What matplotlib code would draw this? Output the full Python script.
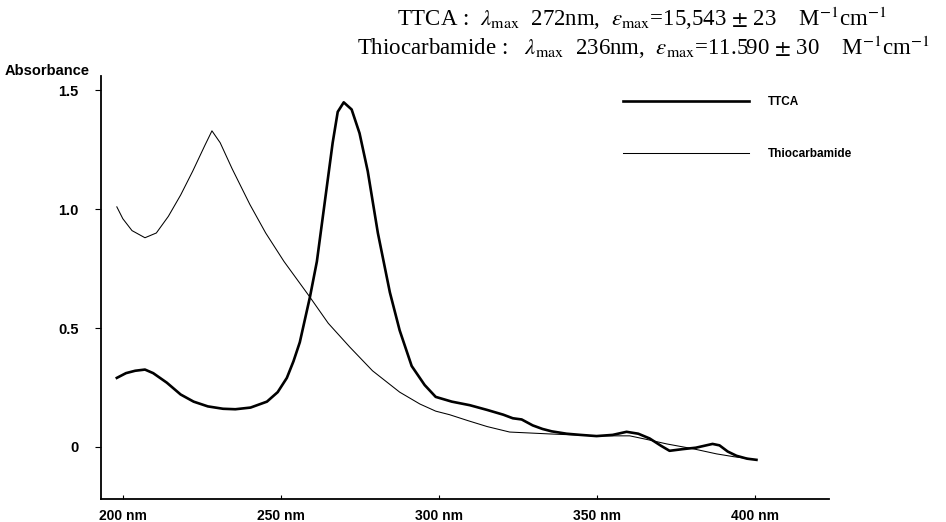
import matplotlib.pyplot as plt

plt.rcParams['font.family'] = ['Liberation Sans', 'DejaVu Sans']
plt.rcParams['mathtext.fontset'] = 'stix'

# TTCA spectrum (nm, absorbance)
ttca_nm = [198.2, 201.1, 204.0, 207.1, 209.7, 214.0, 218.4, 222.5, 227.0, 231.8,
           235.7, 240.5, 245.7, 249.1, 252.0, 254.1, 256.1, 259.3, 261.5, 264.0,
           266.5, 268.1, 270.0, 272.5, 275.0, 277.6, 280.8, 284.6, 287.7, 291.5,
           295.6, 299.1, 304.2, 309.9, 315.4, 320.5, 323.5, 326.3, 329.8, 332.9,
           335.8, 340.5, 344.9, 350.0, 355.1, 359.5, 363.2, 366.8, 370.3, 373.1,
           377.2, 381.4, 386.7, 388.9, 391.5, 394.3, 397.6, 400.6]
ttca_abs = [0.29, 0.31, 0.32, 0.325, 0.31, 0.27, 0.22, 0.19, 0.17, 0.16,
            0.158, 0.165, 0.19, 0.23, 0.29, 0.36, 0.44, 0.63, 0.78, 1.03,
            1.28, 1.41, 1.45, 1.42, 1.32, 1.16, 0.90, 0.65, 0.49, 0.34,
            0.26, 0.21, 0.19, 0.175, 0.155, 0.135, 0.12, 0.115, 0.09, 0.075,
            0.065, 0.055, 0.05, 0.045, 0.05, 0.063, 0.055, 0.035, 0.005, -0.017,
            -0.01, -0.004, 0.012, 0.006, -0.02, -0.038, -0.05, -0.055]

# Thiocarbamide spectrum
thio_nm = [198.2, 200.1, 203.0, 207.1, 210.7, 214.5, 218.4, 222.2, 226.1, 228.3,
           230.9, 234.7, 240.3, 245.3, 251.1, 259.3, 265.1, 271.9, 279.1, 287.7,
           294.1, 299.1, 303.5, 309.3, 315.4, 322.5, 335.2, 350.0, 360.5, 366.2,
           372.2, 380.4, 388.0, 393.5, 398.4]
thio_abs = [1.01, 0.96, 0.91, 0.88, 0.90, 0.97, 1.06, 1.16, 1.27, 1.33,
            1.28, 1.17, 1.02, 0.90, 0.78, 0.63, 0.52, 0.42, 0.32, 0.23,
            0.18, 0.15, 0.135, 0.11, 0.085, 0.062, 0.054, 0.046, 0.046, 0.03,
            0.012, -0.008, -0.03, -0.042, -0.05]

xticks = [200, 250, 300, 350, 400]
xlabels = ['200 nm', '250 nm', '300 nm', '350 nm', '400 nm']
yticks = [0, 0.5, 1.0, 1.5]
ylabels = ['0', '0.5', '1.0', '1.5']

fig = plt.figure(figsize=(9.46, 5.22), dpi=100)
ax = fig.add_axes([0.1068, 0.044, 0.77, 0.81])

ax.plot(ttca_nm, ttca_abs, color='black', lw=1.9, label='TTCA')
ax.plot(thio_nm, thio_abs, color='black', lw=0.75, label='Thiocarbamide')

ax.set_xlim(193.2, 423.7)
ax.set_ylim(-0.22, 1.56)
ax.set_xticks(xticks)
ax.set_xticklabels(xlabels, fontsize=10, fontweight='bold')
ax.set_yticks(yticks)
ax.set_yticklabels(ylabels, fontsize=10.5, fontweight='bold')
ax.tick_params(axis='x', direction='in', length=3, pad=7)
ax.tick_params(axis='y', direction='out', length=4, pad=12)
ax.spines['top'].set_visible(False)
ax.spines['right'].set_visible(False)
ax.spines['left'].set_linewidth(1.3)
ax.spines['bottom'].set_linewidth(1.3)

fig.text(0.005, 0.857, 'Absorbance', fontsize=10.5, fontweight='bold')

ax.legend(loc='upper left', bbox_to_anchor=(0.702, 0.978), frameon=False,
          handlelength=10.7, handletextpad=1.6, labelspacing=3.4,
          prop={'size': 8.5, 'weight': 'bold'})

fig.text(0.42, 0.950,
         r'TTCA :  $\lambda_{\rm max}$  272nm,  $\varepsilon_{\rm max}$=15,543 $\pm$ 23    M$^{-1}$cm$^{-1}$',
         fontsize=16.5, family='Liberation Serif')
fig.text(0.377, 0.895,
         r'Thiocarbamide :   $\lambda_{\rm max}$  236nm,  $\varepsilon_{\rm max}$=11.590 $\pm$ 30    M$^{-1}$cm$^{-1}$',
         fontsize=16.5, family='Liberation Serif')

fig.savefig('out.png', dpi=100)
